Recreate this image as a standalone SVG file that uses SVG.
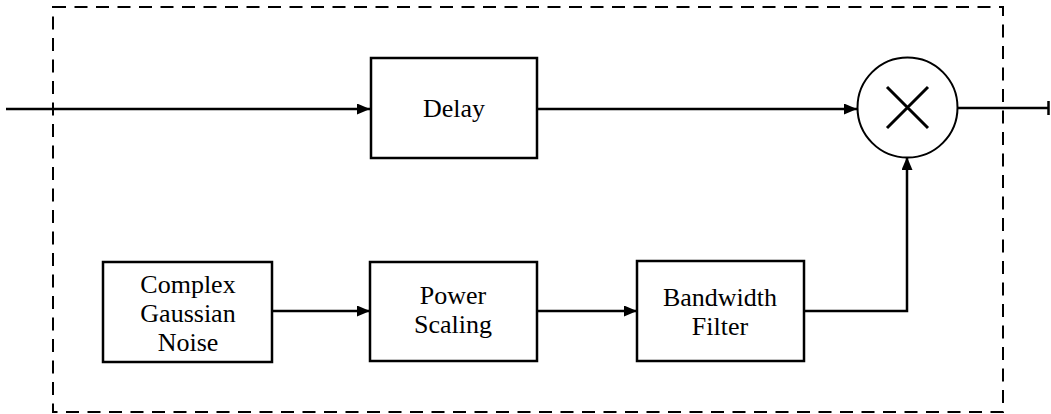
<svg xmlns="http://www.w3.org/2000/svg" width="1051" height="414" viewBox="0 0 1051 414">
<style>
.box{fill:#fff;stroke:#000;stroke-width:2.5}
.lbl{font-family:"Liberation Serif","Times New Roman",serif;font-size:26px;fill:#000;text-anchor:middle}
.wire{fill:none;stroke:#000;stroke-width:2.5}
.frame{fill:none;stroke:#000;stroke-width:2;stroke-dasharray:13 8.5}
</style>
<defs>
<marker id="arr" viewBox="0 0 13 11" refX="13" refY="5.5" markerWidth="13" markerHeight="11" markerUnits="userSpaceOnUse" orient="auto">
<path d="M0,0 L13,5.5 L0,11 Z" fill="#000"/>
</marker>
</defs>
<rect class="frame" x="53" y="7" width="950" height="405"/>
<g id="connectors">
<line class="wire" x1="6" y1="109" x2="370" y2="109" marker-end="url(#arr)"/>
<line class="wire" x1="537" y1="109" x2="857" y2="109" marker-end="url(#arr)"/>
<line class="wire" x1="958" y1="108" x2="1048" y2="108"/>
<line class="wire" x1="1048.5" y1="101" x2="1048.5" y2="115"/>
<line class="wire" x1="272" y1="311" x2="370" y2="311" marker-end="url(#arr)"/>
<line class="wire" x1="537" y1="311" x2="637" y2="311" marker-end="url(#arr)"/>
<polyline class="wire" points="804,311 907,311 907,157" marker-end="url(#arr)"/>
</g>
<g id="delay">
<rect class="box" x="371" y="58" width="166" height="100"/>
<text class="lbl" x="454" y="117">Delay</text>
</g>
<g id="multiplier">
<circle cx="907.5" cy="107.5" r="50" fill="#fff" stroke="#000" stroke-width="2"/>
<path d="M887,87 L928,128 M928,87 L887,128" stroke="#000" stroke-width="3" fill="none"/>
</g>
<g id="noise">
<rect class="box" x="103" y="262" width="169" height="100"/>
<text class="lbl" x="188" y="293">Complex</text>
<text class="lbl" x="188" y="322">Gaussian</text>
<text class="lbl" x="188" y="351">Noise</text>
</g>
<g id="power">
<rect class="box" x="370" y="262" width="167" height="99"/>
<text class="lbl" x="453" y="304">Power</text>
<text class="lbl" x="453" y="333">Scaling</text>
</g>
<g id="filter">
<rect class="box" x="637" y="261" width="167" height="100"/>
<text class="lbl" x="720" y="306">Bandwidth</text>
<text class="lbl" x="720" y="335">Filter</text>
</g>
</svg>
